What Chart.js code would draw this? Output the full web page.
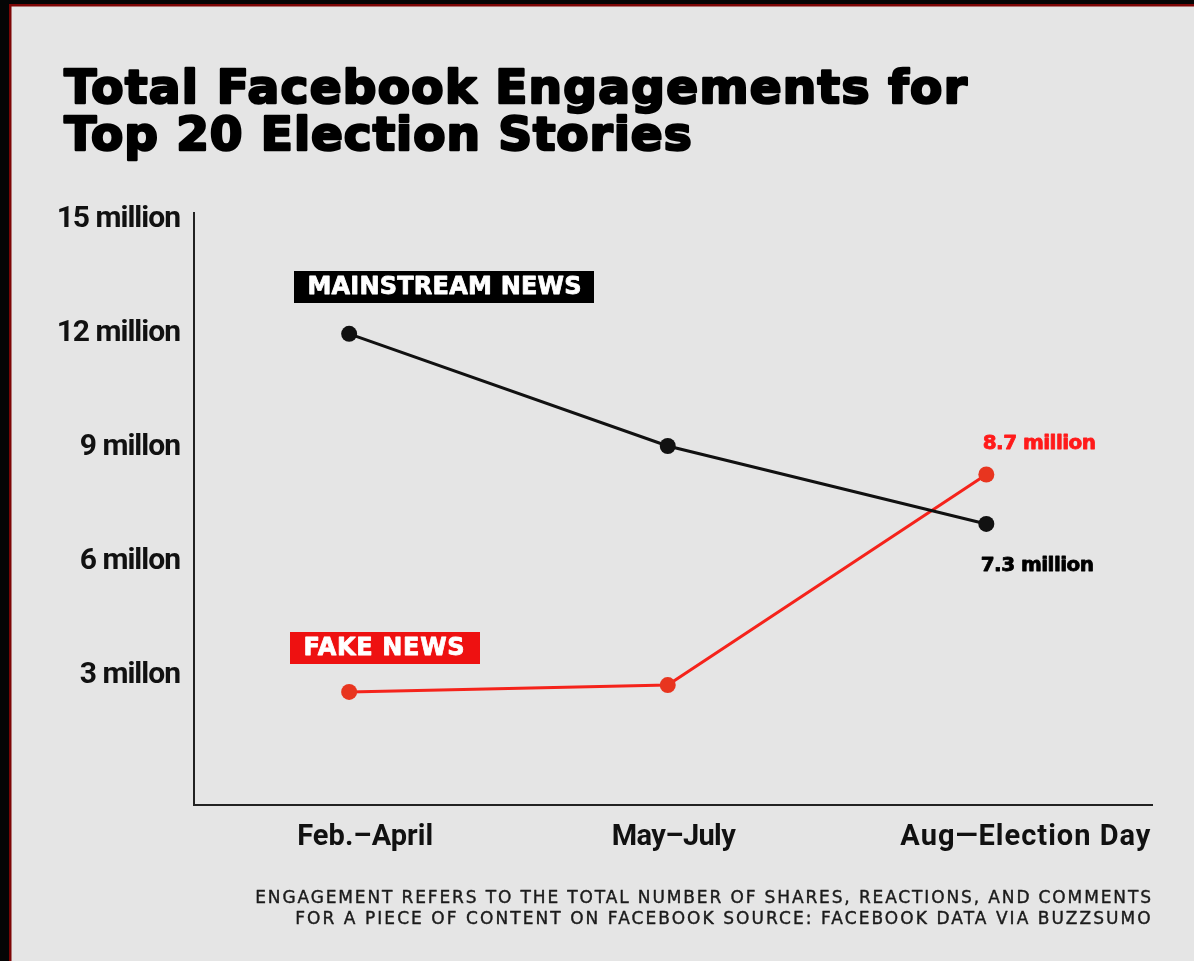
<!DOCTYPE html>
<html>
<head>
<meta charset="utf-8">
<script src="https://cdn.jsdelivr.net/npm/chart.js@4/dist/chart.umd.min.js"></script>
<style>
  html, body { margin: 0; padding: 0; background: #e5e5e5; }
  #wrap { width: 1194px; height: 961px; position: relative; }
</style>
</head>
<body>
<div id="wrap"><canvas id="c" width="1194" height="961"></canvas></div>
<script>
// ---- data (millions) ----
const categories = ['Feb.–April', 'May–July', 'Aug—Election Day'];
const mainstreamValues = [12.0, 9.05, 7.0];
const fakeValues = [2.58, 2.76, 8.3];
const yTickValues = [3, 6, 9, 12, 15];
const yTickLabels = ['3 millon', '6 millon', '9 millon', '12 million', '15 million'];
const seriesNames = ['MAINSTREAM NEWS', 'FAKE NEWS'];
const endLabels = ['7.3 million', '8.7 million'];
const titleLines = ['Total Facebook Engagements for', 'Top 20 Election Stories'];
const noteLines = [
  'ENGAGEMENT REFERS TO THE TOTAL NUMBER OF SHARES, REACTIONS, AND COMMENTS',
  'FOR A PIECE OF CONTENT ON FACEBOOK SOURCE: FACEBOOK DATA VIA BUZZSUMO'
];

const BLACK = '#111111';
const RED_LINE = '#f5231b';
const RED_PT = '#e8351f';
const RED_TEXT = '#ff1a1a';
const RED_BOX = '#ee1111';

// draw text of a given font, adjusting letter spacing so it spans targetW
function spanText(ctx, text, font, x, y, targetW, stroke) {
  ctx.font = font;
  ctx.letterSpacing = '0px';
  const w = ctx.measureText(text).width + (stroke || 0);
  const n = Math.max(1, text.length - 1);
  const ls = (targetW - w) / n;
  ctx.letterSpacing = ls.toFixed(2) + 'px';
  if (stroke) {
    ctx.lineWidth = stroke;
    ctx.lineJoin = 'round';
    ctx.strokeStyle = ctx.fillStyle;
    ctx.strokeText(text, x + stroke / 2, y);
    ctx.fillText(text, x + stroke / 2, y);
  } else {
    ctx.fillText(text, x, y);
  }
  ctx.letterSpacing = '0px';
}

const decor = {
  id: 'decor',
  beforeDraw(chart) {
    const ctx = chart.ctx;
    ctx.save();
    ctx.fillStyle = '#e5e5e5';
    ctx.fillRect(0, 0, chart.width, chart.height);
    ctx.fillStyle = '#050505';
    ctx.fillRect(0, 0, chart.width, 4);
    ctx.fillRect(0, 0, 9, chart.height);
    ctx.fillStyle = '#7d0606';
    ctx.fillRect(9, 4, chart.width - 9, 2.5);
    ctx.fillRect(9, 4, 2.5, chart.height - 4);
    ctx.restore();
    // tighter tracking for the y-axis tick labels drawn by the scale
    ctx.letterSpacing = '-1px';
  },
  beforeDatasetsDraw(chart) {
    chart.ctx.letterSpacing = '0px';
  },
  afterDraw(chart) {
    const ctx = chart.ctx;
    const xs = chart.scales.x, ys = chart.scales.y;
    ctx.save();
    ctx.textAlign = 'left';
    ctx.textBaseline = 'alphabetic';
    const bold = '"DejaVu Sans", Lato, sans-serif';
    // title
    ctx.fillStyle = '#000';
    spanText(ctx, titleLines[0], `bold 47px ${bold}`, 63, 103, 905, 2.5);
    spanText(ctx, titleLines[1], `bold 47px ${bold}`, 63, 150, 630, 2.5);

    // legend boxes
    ctx.textBaseline = 'middle';
    ctx.fillStyle = '#000';
    ctx.fillRect(294, 271, 300, 32);
    ctx.fillStyle = '#fff';
    spanText(ctx, seriesNames[0], `bold 24px ${bold}`, 307, 288, 275, 0.8);
    ctx.fillStyle = RED_BOX;
    ctx.fillRect(290, 632, 190, 32);
    ctx.fillStyle = '#fff';
    spanText(ctx, seriesNames[1], `bold 24px ${bold}`, 303, 649, 162, 0.8);

    // end labels
    const xEnd = xs.getPixelForValue(2);
    ctx.fillStyle = RED_TEXT;
    spanText(ctx, endLabels[1], `bold 20px ${bold}`, xEnd - 4, ys.getPixelForValue(fakeValues[2]) - 31, 114, 0.8);
    ctx.fillStyle = '#000';
    spanText(ctx, endLabels[0], `bold 20px ${bold}`, xEnd - 6, ys.getPixelForValue(mainstreamValues[2]) + 42, 114, 0.8);

    // x category labels (left edges and widths)
    const cFam = 'Roboto, "DejaVu Sans Condensed", sans-serif';
    const catOffsets = [-52, -56, -86];
    const catWidths = [136, 124, 250];
    ctx.fillStyle = '#111';
    categories.forEach((c, i) => {
      spanText(ctx, c, `bold 29px ${cFam}`, xs.getPixelForValue(i) + catOffsets[i], 838, catWidths[i]);
    });

    // footnote
    const nFam = '"DejaVu Sans", "Open Sans", sans-serif';
    ctx.textBaseline = 'alphabetic';
    ctx.fillStyle = '#1a1a1a';
    spanText(ctx, noteLines[0], `normal 17px ${nFam}`, 255, 903, 896, 0.4);
    spanText(ctx, noteLines[1], `normal 17px ${nFam}`, 295, 924, 856, 0.4);
    ctx.restore();
  }
};

new Chart(document.getElementById('c'), {
  type: 'line',
  data: {
    datasets: [
      {
        label: seriesNames[0],
        data: mainstreamValues.map((v, i) => ({ x: i, y: v })),
        borderColor: BLACK,
        backgroundColor: BLACK,
        pointBackgroundColor: BLACK,
        pointBorderColor: BLACK,
        borderWidth: 3,
        pointRadius: 8,
        pointBorderWidth: 0,
        tension: 0
      },
      {
        label: seriesNames[1],
        data: fakeValues.map((v, i) => ({ x: i, y: v })),
        borderColor: RED_LINE,
        backgroundColor: RED_PT,
        pointBackgroundColor: RED_PT,
        pointBorderColor: RED_PT,
        borderWidth: 3,
        pointRadius: 8,
        pointBorderWidth: 0,
        tension: 0
      }
    ]
  },
  options: {
    responsive: false,
    animation: false,
    devicePixelRatio: 1,
    layout: { padding: { top: 213, right: 42, left: 0, bottom: 0 } },
    plugins: { legend: { display: false }, tooltip: { enabled: false } },
    scales: {
      x: {
        type: 'linear',
        min: -0.487,
        max: 2.52,
        grid: { display: false, drawTicks: false },
        border: { display: true, color: '#222', width: 2 },
        ticks: { display: false },
        afterFit(scale) { scale.height = 156; }
      },
      y: {
        type: 'linear',
        min: -0.395,
        max: 15.18,
        grid: { display: false, drawTicks: false },
        border: { display: true, color: '#222', width: 2 },
        afterBuildTicks(scale) { scale.ticks = yTickValues.map(v => ({ value: v })); },
        afterFit(scale) { scale.width = 194; },
        ticks: {
          padding: 14,
          color: '#111',
          font: { family: 'Roboto, "DejaVu Sans Condensed", sans-serif', size: 30, weight: 'bold' },
          callback(v) {
            const i = yTickValues.indexOf(v);
            return i >= 0 ? yTickLabels[i] : '';
          }
        }
      }
    }
  },
  plugins: [decor]
});
</script>
</body>
</html>
